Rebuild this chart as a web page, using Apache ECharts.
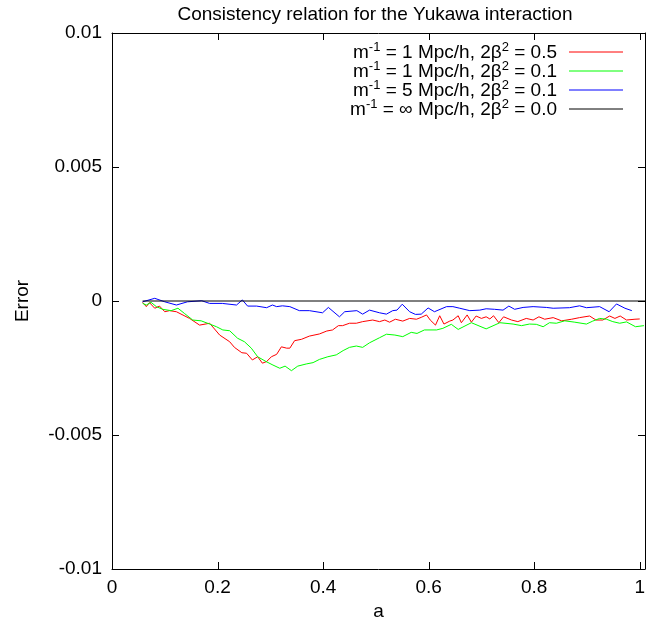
<!DOCTYPE html>
<html>
<head>
<meta charset="utf-8">
<script src="https://cdn.jsdelivr.net/npm/echarts@6/dist/echarts.min.js"></script>
<style>html,body{margin:0;padding:0;background:#fff}#c{width:659px;height:624px}</style>
</head>
<body>
<div id="c"></div>
<script>
const xTicks = [0, 0.2, 0.4, 0.6, 0.8, 1];
const yTicks = [-0.01, -0.005, 0, 0.005, 0.01];
const legendNames = [
  ['1', '0.5'],
  ['1', '0.1'],
  ['5', '0.1'],
  ['\u221e', '0.0']
];
const redData = [
 [0.058,-0.00005],[0.065,-0.00021],[0.071,-0.00006],[0.081,-0.00027],[0.090,-0.00019],[0.100,-0.00040],
 [0.109,-0.00036],[0.122,-0.00040],[0.147,-0.00065],[0.166,-0.00090],[0.185,-0.00083],[0.204,-0.00127],
 [0.223,-0.00152],[0.232,-0.00173],[0.246,-0.00193],[0.255,-0.00195],[0.266,-0.00220],[0.276,-0.00208],
 [0.285,-0.00232],[0.293,-0.00226],[0.302,-0.00208],[0.312,-0.00199],[0.321,-0.00171],[0.331,-0.00176],
 [0.337,-0.00176],[0.346,-0.00148],[0.359,-0.00143],[0.374,-0.00131],[0.393,-0.00123],[0.407,-0.00112],
 [0.418,-0.00108],[0.429,-0.00092],[0.437,-0.00092],[0.450,-0.00083],[0.463,-0.00083],[0.475,-0.00077],
 [0.494,-0.00071],[0.507,-0.00077],[0.517,-0.00071],[0.526,-0.00079],[0.537,-0.00068],[0.551,-0.00075],
 [0.564,-0.00065],[0.577,-0.00068],[0.586,-0.00061],[0.596,-0.00052],[0.603,-0.00071],[0.613,-0.00090],
 [0.621,-0.00055],[0.629,-0.00086],[0.640,-0.00075],[0.646,-0.00071],[0.656,-0.00055],[0.662,-0.00081],
 [0.673,-0.00052],[0.681,-0.00079],[0.690,-0.00056],[0.700,-0.00065],[0.709,-0.00059],[0.716,-0.00067],
 [0.723,-0.00055],[0.733,-0.00081],[0.742,-0.00059],[0.757,-0.00071],[0.769,-0.00077],[0.785,-0.00065],
 [0.798,-0.00071],[0.809,-0.00059],[0.820,-0.00068],[0.836,-0.00062],[0.852,-0.00074],[0.871,-0.00068],
 [0.886,-0.00062],[0.905,-0.00056],[0.917,-0.00071],[0.930,-0.00071],[0.943,-0.00056],[0.953,-0.00065],
 [0.963,-0.00056],[0.975,-0.00071],[0.991,-0.00068],[1.000,-0.00067]
];
const greenData = [
 [0.058,-0.00009],[0.065,-0.00015],[0.074,-0.00005],[0.084,-0.00021],[0.096,-0.00031],[0.112,-0.00036],
 [0.125,-0.00027],[0.137,-0.00046],[0.153,-0.00071],[0.169,-0.00074],[0.185,-0.00086],[0.198,-0.00096],
 [0.210,-0.00108],[0.223,-0.00111],[0.238,-0.00139],[0.251,-0.00152],[0.264,-0.00176],[0.276,-0.00208],
 [0.292,-0.00226],[0.305,-0.00239],[0.318,-0.00251],[0.328,-0.00243],[0.340,-0.00260],[0.352,-0.00243],
 [0.368,-0.00235],[0.381,-0.00230],[0.393,-0.00218],[0.409,-0.00208],[0.425,-0.00201],[0.438,-0.00185],
 [0.450,-0.00173],[0.463,-0.00168],[0.475,-0.00173],[0.488,-0.00156],[0.507,-0.00137],[0.520,-0.00124],
 [0.536,-0.00127],[0.551,-0.00133],[0.567,-0.00117],[0.578,-0.00121],[0.592,-0.00108],[0.615,-0.00108],
 [0.627,-0.00102],[0.643,-0.00087],[0.656,-0.00106],[0.681,-0.00081],[0.709,-0.00104],[0.735,-0.00081],
 [0.760,-0.00086],[0.776,-0.00092],[0.791,-0.00086],[0.804,-0.00087],[0.817,-0.00096],[0.829,-0.00081],
 [0.842,-0.00083],[0.858,-0.00074],[0.877,-0.00079],[0.899,-0.00086],[0.911,-0.00075],[0.924,-0.00065],
 [0.937,-0.00068],[0.949,-0.00077],[0.962,-0.00083],[0.975,-0.00078],[0.992,-0.00096],[1.008,-0.00092]
];
const blueData = [
 [0.058,-0.00003],[0.081,0.00010],[0.100,-0.00003],[0.122,-0.00015],[0.143,-0.00003],[0.170,0.00001],
 [0.185,-0.00009],[0.209,-0.00009],[0.236,-0.00015],[0.247,0.00004],[0.257,-0.00019],[0.274,-0.00019],
 [0.293,-0.00025],[0.304,-0.00015],[0.312,-0.00021],[0.323,-0.00018],[0.337,-0.00021],[0.355,-0.00036],
 [0.374,-0.00036],[0.399,-0.00044],[0.410,-0.00024],[0.431,-0.00059],[0.441,-0.00040],[0.464,-0.00036],
 [0.475,-0.00049],[0.488,-0.00034],[0.507,-0.00044],[0.520,-0.00049],[0.532,-0.00036],[0.540,-0.00034],
 [0.550,-0.00012],[0.564,-0.00040],[0.575,-0.00050],[0.586,-0.00049],[0.599,-0.00026],[0.611,-0.00040],
 [0.634,-0.00021],[0.646,-0.00021],[0.659,-0.00027],[0.678,-0.00036],[0.697,-0.00034],[0.709,-0.00029],
 [0.725,-0.00031],[0.741,-0.00034],[0.752,-0.00019],[0.763,-0.00031],[0.779,-0.00024],[0.798,-0.00021],
 [0.823,-0.00024],[0.836,-0.00027],[0.867,-0.00025],[0.886,-0.00018],[0.899,-0.00025],[0.924,-0.00021],
 [0.942,-0.00040],[0.956,-0.00011],[0.972,-0.00027],[0.985,-0.00036]
];
const blackData = [[0.058, 0], [1.01, 0]];
const colors = ['#ff0000', '#00ff00', '#0000ff', '#000000'];

const FONT = 'Liberation Sans, Arial, Helvetica, sans-serif';
const FS = 19;
const TICK = 7;
const GRID = {left: 112, right: 14, top: 33, bottom: 55};
const chart = echarts.init(document.getElementById('c'), null, {renderer: 'canvas'});

const xr = {min: 0, max: 1.01, interval: 0.2};
const yr = {min: -0.01, max: 0.01, interval: 0.005};

const seriesData = [redData, greenData, blueData, blackData];
const series = seriesData.map((d, i) => ({
  type: 'line',
  name: 'm-1 = ' + legendNames[i][0] + ' Mpc/h, 2b2 = ' + legendNames[i][1],
  data: d,
  xAxisIndex: 0, yAxisIndex: 0,
  showSymbol: false,
  symbol: 'none',
  animation: false,
  lineStyle: {color: colors[i], width: 1},
  z: 2 + i
}));

// Inward frame ticks drawn through the axes' own scale (api.coord)
const tickStyle = {stroke: '#000', lineWidth: 1, fill: null};
series.push({
  type: 'custom', name: 'xticks', silent: true, animation: false, clip: false, z: 20,
  xAxisIndex: 0, yAxisIndex: 0,
  data: xTicks.map(v => [v, 0]),
  encode: {x: 0, y: 1},
  renderItem: function (params, api) {
    const x = Math.round(api.coord([api.value(0), 0])[0]) + 0.5;
    const yb = api.coord([0, yr.min])[1];
    const yt = api.coord([0, yr.max])[1];
    return {type: 'group', children: [
      {type: 'line', shape: {x1: x, y1: yb, x2: x, y2: yb - TICK}, style: tickStyle},
      {type: 'line', shape: {x1: x, y1: yt, x2: x, y2: yt + TICK}, style: tickStyle}
    ]};
  }
});
series.push({
  type: 'custom', name: 'yticks', silent: true, animation: false, clip: false, z: 20,
  xAxisIndex: 0, yAxisIndex: 0,
  data: yTicks.map(v => [0, v]),
  encode: {x: 0, y: 1},
  renderItem: function (params, api) {
    const y = Math.round(api.coord([0, api.value(1)])[1]) + 0.5;
    const xl = api.coord([xr.min, 0])[0];
    const xrr = api.coord([xr.max, 0])[0];
    return {type: 'group', children: [
      {type: 'line', shape: {x1: xl, y1: y, x2: xl + TICK, y2: y}, style: tickStyle},
      {type: 'line', shape: {x1: xrr, y1: y, x2: xrr - TICK, y2: y}, style: tickStyle}
    ]};
  }
});

function frameAxis(extra) {
  return Object.assign({
    type: 'value',
    axisLine: {show: true, onZero: false, lineStyle: {color: '#000', width: 1}},
    axisTick: {show: false},
    splitLine: {show: false},
    axisLabel: {show: false}
  }, extra);
}

// Legend (text right-aligned, sample line on the right, as in the original)
const graphics = [];
const legendY = [52, 71, 90, 109];
legendNames.forEach((ln, i) => {
  graphics.push({
    type: 'text',
    x: 557, y: legendY[i] + 1,
    style: {
      text: '{t|m}{s|-1}{t| = ' + ln[0] + ' Mpc/h, 2\u03b2}{s|2}{t| = ' + ln[1] + '}',
      align: 'right', verticalAlign: 'middle',
      font: FS + 'px ' + FONT, fill: '#000',
      rich: {
        t: {fontSize: FS, fontFamily: FONT, fill: '#000'},
        s: {fontSize: 13, fontFamily: FONT, fill: '#000', padding: [0, 0, 11, 0]}
      }
    }
  });
  graphics.push({
    type: 'line',
    shape: {x1: 569, y1: legendY[i], x2: 623, y2: legendY[i]},
    style: {stroke: colors[i], lineWidth: 1}
  });
});

chart.setOption({
  animation: false,
  backgroundColor: '#fff',
  title: {
    text: 'Consistency relation for the Yukawa interaction',
    left: 370, top: 0, textAlign: 'center',
    textStyle: {fontSize: FS, fontWeight: 'normal', color: '#000', fontFamily: FONT}
  },
  grid: Object.assign({containLabel: false, outerBoundsMode: 'none'}, GRID),
  xAxis: [
    frameAxis(Object.assign({
      position: 'bottom',
      axisLabel: {show: true, fontSize: FS, color: '#000', fontFamily: FONT, margin: 9, showMaxLabel: false,
        formatter: v => { const t = xTicks.find(x => Math.abs(x - v) < 1e-9); return t === undefined ? '' : String(t); }},
      name: 'a', nameLocation: 'middle', nameGap: 31,
      nameTextStyle: {fontSize: FS, color: '#000', fontFamily: FONT}
    }, xr)),
    frameAxis(Object.assign({position: 'top'}, xr))
  ],
  yAxis: [
    frameAxis(Object.assign({
      position: 'left',
      axisLabel: {show: true, fontSize: FS, color: '#000', fontFamily: FONT, margin: 10,
        formatter: v => { const t = yTicks.find(y => Math.abs(y - v) < 1e-12); return t === undefined ? '' : String(t); }},
      name: 'Error', nameLocation: 'middle', nameGap: 80, nameRotate: 90,
      nameTextStyle: {fontSize: FS, color: '#000', fontFamily: FONT}
    }, yr)),
    frameAxis(Object.assign({position: 'right'}, yr))
  ],
  series: series,
  graphic: {elements: graphics}
});
</script>
</body>
</html>
